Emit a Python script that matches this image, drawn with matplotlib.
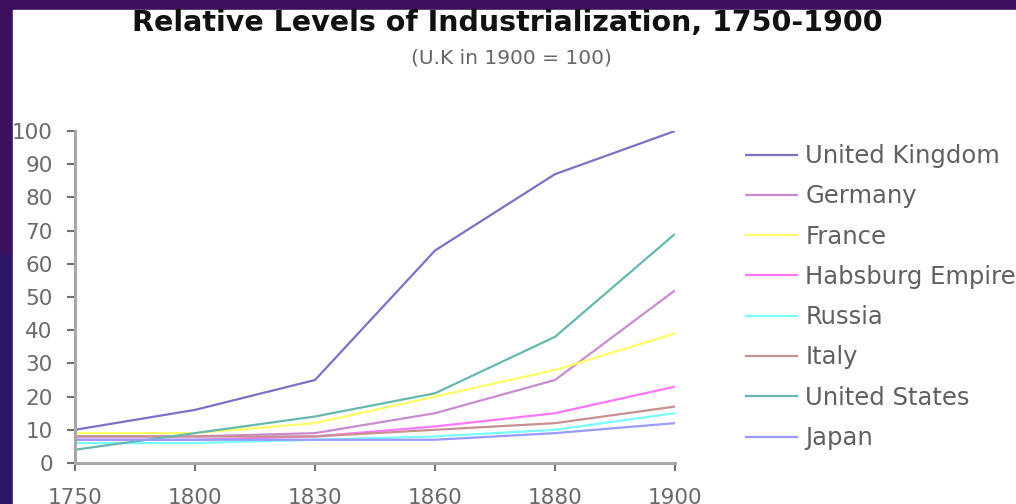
import matplotlib
matplotlib.use("Agg")
import matplotlib.pyplot as plt
from matplotlib.patches import Rectangle

# datos (U.K. en 1900 = 100)
years = ["1750", "1800", "1830", "1860", "1880", "1900"]
uk = [10, 16, 25, 64, 87, 100]
germany = [8, 8, 9, 15, 25, 52]
france = [9, 9, 12, 20, 28, 39]
habsburg = [7, 7, 8, 11, 15, 23]
russia = [6, 6, 7, 8, 10, 15]
italy = [8, 8, 8, 10, 12, 17]
usa = [4, 9, 14, 21, 38, 69]
japan = [7, 7, 7, 7, 9, 12]

series = [
    ("United Kingdom", uk, "#7b72c4"),
    ("Germany", germany, "#c98cd0"),
    ("France", france, "#ffff66"),
    ("Habsburg Empire", habsburg, "#ff77ff"),
    ("Russia", russia, "#77ffff"),
    ("Italy", italy, "#c99090"),
    ("United States", usa, "#66b8b0"),
    ("Japan", japan, "#9a9aff"),
]

plt.rcParams["font.family"] = ["DejaVu Sans"]

fig = plt.figure(figsize=(10.16, 5.04), dpi=100)
fig.patch.set_facecolor("#2f1565")

# marco morado y fondo blanco
fig.patches.append(Rectangle((0, 0.5), 1, 0.5, transform=fig.transFigure,
                             color="#3c105c", zorder=-3))
fig.patches.append(Rectangle((13 / 1016, 0), 1, 1 - 10 / 504,
                             transform=fig.transFigure, color="white", zorder=-2))

ax = fig.add_axes([75 / 1016, 41 / 504, 600 / 1016, 332 / 504])
ax.set_facecolor("none")

x = range(len(years))
for name, vals, col in series:
    ax.plot(x, vals, color=col, lw=1.6, label=name, solid_capstyle="butt")

ax.set_xlim(0, len(years) - 1)
ax.set_ylim(0, 100)
ax.set_xticks(list(x))
ax.set_xticklabels(years)
ax.set_yticks(range(0, 101, 10))

for s in ["top", "right"]:
    ax.spines[s].set_visible(False)
for s in ["left", "bottom"]:
    ax.spines[s].set_color("#a8a8a8")
    ax.spines[s].set_linewidth(2.2)

ax.tick_params(axis="y", direction="out", length=6, width=1.5, color="#707070",
               labelsize=15.5, labelcolor="#6a6a6a", pad=10)
ax.tick_params(axis="x", direction="out", length=6, width=1.5, color="#707070",
               labelsize=15.5, labelcolor="#6a6a6a", pad=12)

leg = ax.legend(loc="upper left", bbox_to_anchor=(1.1, 0.99), frameon=False,
                fontsize=17.5, labelcolor="#606060", handlelength=2.2,
                handletextpad=0.3, labelspacing=0.67, borderaxespad=0)

fig.text(0.499, 0.955, "Relative Levels of Industrialization, 1750-1900",
         ha="center", va="center", fontsize=20.5, fontweight="bold", color="#111111")
fig.text(0.503, 0.885, "(U.K in 1900 = 100)", ha="center", va="center",
         fontsize=14.5, color="#666666")

fig.savefig("out.png", dpi=100, facecolor=fig.get_facecolor())
